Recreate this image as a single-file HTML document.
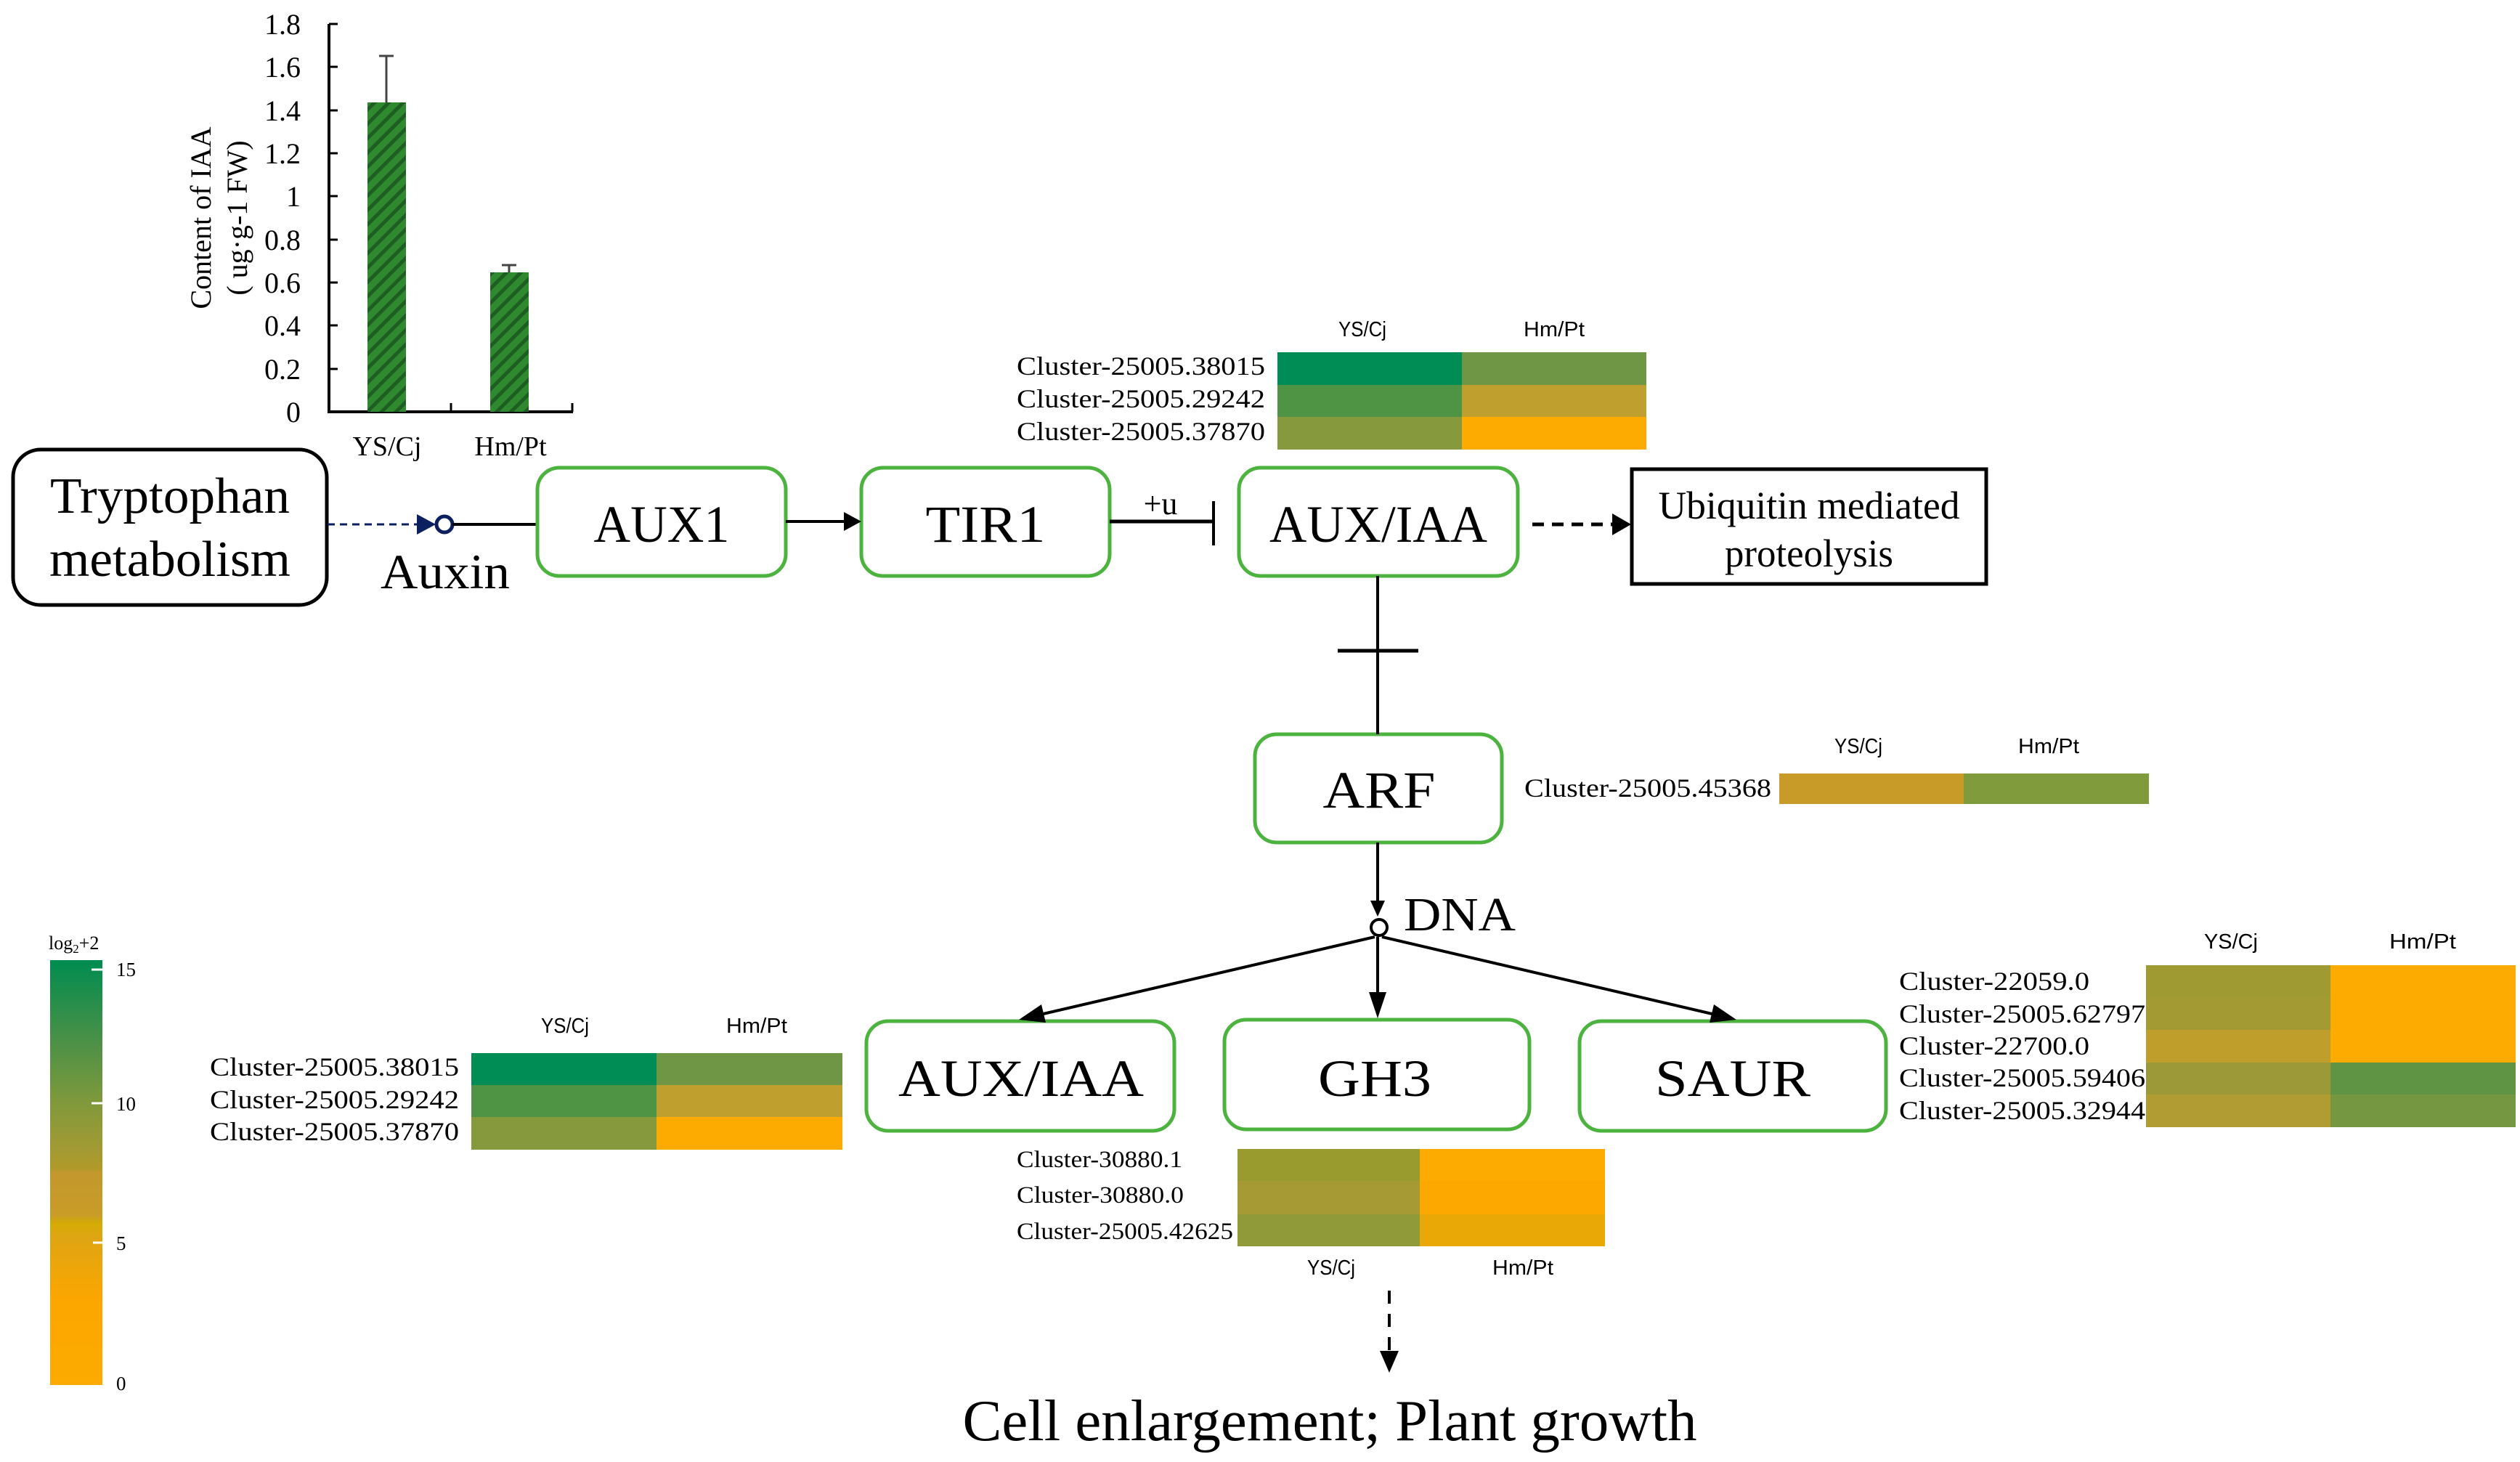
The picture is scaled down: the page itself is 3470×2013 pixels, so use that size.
<!DOCTYPE html>
<html><head><meta charset="utf-8">
<style>html,body{margin:0;padding:0;background:#fff}svg{display:block}</style>
</head><body>
<svg xmlns="http://www.w3.org/2000/svg" width="3470" height="2013" viewBox="0 0 3470 2013">
<defs>
<pattern id="hatch" width="14" height="14" patternUnits="userSpaceOnUse" patternTransform="rotate(45)">
<rect width="14" height="14" fill="#2f8a2f"/><rect width="5" height="14" fill="#1f5e22"/>
</pattern>
<linearGradient id="lg" x1="0" y1="0" x2="0" y2="1">
<stop offset="0" stop-color="#008c50"/>
<stop offset="0.2" stop-color="#4e9146"/>
<stop offset="0.33" stop-color="#7e993c"/>
<stop offset="0.45" stop-color="#a49a33"/>
<stop offset="0.49" stop-color="#b09a28"/>
<stop offset="0.5" stop-color="#c3982d"/>
<stop offset="0.6" stop-color="#c99c28"/>
<stop offset="0.62" stop-color="#d4ac04"/>
<stop offset="0.65" stop-color="#dea513"/>
<stop offset="0.8" stop-color="#fca600"/>
<stop offset="1" stop-color="#fdab00"/>
</linearGradient>
</defs>
<g font-family="Liberation Serif, serif" fill="#000">

<!-- Bar chart -->
<line x1="453" y1="33" x2="453" y2="567" stroke="#000" stroke-width="4"/>
<line x1="451" y1="567" x2="789" y2="567" stroke="#000" stroke-width="4"/>
<g stroke="#000" stroke-width="3">
<line x1="453" y1="33" x2="465" y2="33"/><line x1="453" y1="92" x2="465" y2="92"/><line x1="453" y1="152" x2="465" y2="152"/><line x1="453" y1="211" x2="465" y2="211"/><line x1="453" y1="270" x2="465" y2="270"/><line x1="453" y1="330" x2="465" y2="330"/><line x1="453" y1="389" x2="465" y2="389"/><line x1="453" y1="448" x2="465" y2="448"/><line x1="453" y1="508" x2="465" y2="508"/>
<line x1="621" y1="555" x2="621" y2="567"/><line x1="788" y1="555" x2="788" y2="567"/>
</g>
<g font-size="40" text-anchor="end">
<text x="414" y="47">1.8</text><text x="414" y="106">1.6</text><text x="414" y="166">1.4</text><text x="414" y="225">1.2</text><text x="414" y="284">1</text><text x="414" y="344">0.8</text><text x="414" y="403">0.6</text><text x="414" y="462">0.4</text><text x="414" y="522">0.2</text><text x="414" y="581">0</text>
</g>
<text transform="translate(290,300) rotate(-90)" font-size="40" text-anchor="middle">Content of IAA</text>
<text transform="translate(340,300) rotate(-90)" font-size="40" text-anchor="middle">( ug·g-1 FW)</text>
<rect x="506" y="141" width="53" height="426" fill="url(#hatch)"/>
<rect x="675" y="375" width="53" height="192" fill="url(#hatch)"/>
<g stroke="#444" stroke-width="3">
<line x1="532" y1="141" x2="532" y2="77"/><line x1="522" y1="77" x2="542" y2="77"/>
<line x1="701" y1="375" x2="701" y2="365"/><line x1="691" y1="365" x2="711" y2="365"/>
</g>
<text x="533" y="627" font-size="38" text-anchor="middle">YS/Cj</text>
<text x="703" y="627" font-size="38" text-anchor="middle">Hm/Pt</text>

<!-- Tryptophan -->
<rect x="18" y="619" width="432" height="214" rx="38" fill="none" stroke="#000" stroke-width="5"/>
<text x="234" y="706" font-size="70" text-anchor="middle" textLength="330" lengthAdjust="spacingAndGlyphs">Tryptophan</text>
<text x="234" y="793" font-size="70" text-anchor="middle" textLength="332" lengthAdjust="spacingAndGlyphs">metabolism</text>
<line x1="451" y1="722" x2="578" y2="722" stroke="#0c1f5e" stroke-width="3" stroke-dasharray="10,7"/>
<polygon points="574,708 600,722 574,736" fill="#0c1f5e"/>
<circle cx="612" cy="722" r="11" fill="#fff" stroke="#0c1f5e" stroke-width="5"/>
<line x1="623" y1="722" x2="740" y2="722" stroke="#000" stroke-width="4"/>
<text x="613" y="810" font-size="68" text-anchor="middle" textLength="178" lengthAdjust="spacingAndGlyphs">Auxin</text>

<!-- green boxes -->
<g fill="none" stroke="#4cb33f" stroke-width="5">
<rect x="740" y="644" width="342" height="149" rx="30"/>
<rect x="1186" y="644" width="342" height="149" rx="30"/>
<rect x="1706" y="644" width="384" height="149" rx="30"/>
<rect x="1728" y="1011" width="340" height="149" rx="30"/>
<rect x="1193" y="1406" width="424" height="151" rx="30"/>
<rect x="1686" y="1404" width="420" height="151" rx="30"/>
<rect x="2175" y="1406" width="422" height="151" rx="30"/>
</g>
<g font-size="72" text-anchor="middle">
<text x="911" y="746" textLength="187" lengthAdjust="spacingAndGlyphs">AUX1</text>
<text x="1357" y="746" textLength="165" lengthAdjust="spacingAndGlyphs">TIR1</text>
<text x="1898" y="746" textLength="300" lengthAdjust="spacingAndGlyphs">AUX/IAA</text>
<text x="1899" y="1112" textLength="155" lengthAdjust="spacingAndGlyphs">ARF</text>
<text x="1406" y="1509" textLength="338" lengthAdjust="spacingAndGlyphs">AUX/IAA</text>
<text x="1893" y="1509" textLength="156" lengthAdjust="spacingAndGlyphs">GH3</text>
<text x="2386" y="1509" textLength="214" lengthAdjust="spacingAndGlyphs">SAUR</text>
</g>

<!-- connectors -->
<line x1="1082" y1="718" x2="1165" y2="718" stroke="#000" stroke-width="4"/>
<polygon points="1162,705 1186,718 1162,731"/>
<line x1="1528" y1="718" x2="1671" y2="718" stroke="#000" stroke-width="5"/>
<line x1="1671" y1="690" x2="1671" y2="751" stroke="#000" stroke-width="4"/>
<text x="1598" y="708" font-size="44" text-anchor="middle">+u</text>
<line x1="2110" y1="722" x2="2222" y2="722" stroke="#000" stroke-width="5" stroke-dasharray="16,11"/>
<polygon points="2220,707 2246,722 2220,737"/>
<rect x="2247" y="646" width="488" height="158" fill="none" stroke="#000" stroke-width="5"/>
<text x="2491" y="714" font-size="54" text-anchor="middle" textLength="415" lengthAdjust="spacingAndGlyphs">Ubiquitin mediated</text>
<text x="2491" y="780" font-size="54" text-anchor="middle" textLength="232" lengthAdjust="spacingAndGlyphs">proteolysis</text>

<line x1="1897" y1="793" x2="1897" y2="1011" stroke="#000" stroke-width="4"/>
<line x1="1842" y1="896" x2="1953" y2="896" stroke="#000" stroke-width="5"/>
<line x1="1897" y1="1160" x2="1897" y2="1248" stroke="#000" stroke-width="4"/>
<polygon points="1887,1240 1897,1262 1907,1240"/>
<circle cx="1899" cy="1277" r="11" fill="#fff" stroke="#000" stroke-width="4"/>
<text x="2010" y="1281" font-size="66" text-anchor="middle" textLength="154" lengthAdjust="spacingAndGlyphs">DNA</text>
<g stroke="#000" stroke-width="4">
<line x1="1893" y1="1290" x2="1428" y2="1398"/>
<line x1="1897" y1="1290" x2="1897" y2="1372"/>
<line x1="1903" y1="1290" x2="2366" y2="1398"/>
</g>
<polygon points="1403,1404 1434,1383 1440,1408"/>
<polygon points="1885,1366 1897,1402 1909,1366"/>
<polygon points="2391,1404 2360,1383 2354,1408"/>
<line x1="1913" y1="1777" x2="1913" y2="1866" stroke="#000" stroke-width="4" stroke-dasharray="18,14"/>
<polygon points="1900,1860 1913,1890 1926,1860"/>
<text x="1831" y="1983" font-size="80" text-anchor="middle" textLength="1011" lengthAdjust="spacingAndGlyphs">Cell enlargement; Plant growth</text>

<!-- headers -->
<g font-family="Liberation Sans, sans-serif" font-size="29" text-anchor="middle">
<text x="1876" y="463" textLength="66" lengthAdjust="spacingAndGlyphs">YS/Cj</text><text x="2140" y="463" textLength="84" lengthAdjust="spacingAndGlyphs">Hm/Pt</text>
<text x="2559" y="1037" textLength="66" lengthAdjust="spacingAndGlyphs">YS/Cj</text><text x="2821" y="1037" textLength="84" lengthAdjust="spacingAndGlyphs">Hm/Pt</text>
<text x="778" y="1422" textLength="66" lengthAdjust="spacingAndGlyphs">YS/Cj</text><text x="1042" y="1422" textLength="84" lengthAdjust="spacingAndGlyphs">Hm/Pt</text>
<text x="1833" y="1755" textLength="66" lengthAdjust="spacingAndGlyphs">YS/Cj</text><text x="2097" y="1755" textLength="84" lengthAdjust="spacingAndGlyphs">Hm/Pt</text>
<text x="3072" y="1306" textLength="74" lengthAdjust="spacingAndGlyphs">YS/Cj</text><text x="3336" y="1306" textLength="92" lengthAdjust="spacingAndGlyphs">Hm/Pt</text>
</g>
<rect x="1759" y="485" width="254" height="45" fill="#008c55"/><rect x="2013" y="485" width="254" height="45" fill="#6f9644"/>
<rect x="1759" y="530" width="254" height="44" fill="#4f9444"/><rect x="2013" y="530" width="254" height="44" fill="#bf9f2e"/>
<rect x="1759" y="574" width="254" height="45" fill="#86993c"/><rect x="2013" y="574" width="254" height="45" fill="#fdab00"/>
<g font-size="36">
<text x="1400" y="516" textLength="342" lengthAdjust="spacingAndGlyphs">Cluster-25005.38015</text>
<text x="1400" y="561" textLength="342" lengthAdjust="spacingAndGlyphs">Cluster-25005.29242</text>
<text x="1400" y="606" textLength="342" lengthAdjust="spacingAndGlyphs">Cluster-25005.37870</text>
</g>

<!-- ARF heatmap -->
<rect x="2450" y="1065" width="254" height="42" fill="#c89a27"/><rect x="2704" y="1065" width="255" height="42" fill="#7f9b3c"/>
<text x="2099" y="1097" font-size="36" textLength="340" lengthAdjust="spacingAndGlyphs">Cluster-25005.45368</text>

<!-- Left heatmap -->
<rect x="649" y="1450" width="255" height="44" fill="#008c55"/><rect x="904" y="1450" width="256" height="44" fill="#6f9644"/>
<rect x="649" y="1494" width="255" height="44" fill="#4f9444"/><rect x="904" y="1494" width="256" height="44" fill="#bf9f2e"/>
<rect x="649" y="1538" width="255" height="45" fill="#86993c"/><rect x="904" y="1538" width="256" height="45" fill="#fdab00"/>
<g font-size="36">
<text x="289" y="1481" textLength="343" lengthAdjust="spacingAndGlyphs">Cluster-25005.38015</text>
<text x="289" y="1526" textLength="343" lengthAdjust="spacingAndGlyphs">Cluster-25005.29242</text>
<text x="289" y="1570" textLength="343" lengthAdjust="spacingAndGlyphs">Cluster-25005.37870</text>
</g>

<!-- GH3 heatmap -->
<rect x="1704" y="1582" width="251" height="44" fill="#9a9b2e"/><rect x="1955" y="1582" width="255" height="44" fill="#fdab00"/>
<rect x="1704" y="1626" width="251" height="46" fill="#a59a33"/><rect x="1955" y="1626" width="255" height="46" fill="#fda800"/>
<rect x="1704" y="1672" width="251" height="44" fill="#919a38"/><rect x="1955" y="1672" width="255" height="44" fill="#eaa806"/>
<g font-size="33">
<text x="1400" y="1607" textLength="228" lengthAdjust="spacingAndGlyphs">Cluster-30880.1</text>
<text x="1400" y="1656" textLength="230" lengthAdjust="spacingAndGlyphs">Cluster-30880.0</text>
<text x="1400" y="1706" textLength="298" lengthAdjust="spacingAndGlyphs">Cluster-25005.42625</text>
</g>

<!-- SAUR heatmap -->
<rect x="2955" y="1329" width="254" height="45" fill="#a09a33"/><rect x="3209" y="1329" width="255" height="45" fill="#fdab00"/>
<rect x="2955" y="1374" width="254" height="44" fill="#a39a33"/><rect x="3209" y="1374" width="255" height="44" fill="#fdab00"/>
<rect x="2955" y="1418" width="254" height="45" fill="#bf9e2c"/><rect x="3209" y="1418" width="255" height="45" fill="#fdab00"/>
<rect x="2955" y="1463" width="254" height="44" fill="#9c9a38"/><rect x="3209" y="1463" width="255" height="44" fill="#5f9444"/>
<rect x="2955" y="1507" width="254" height="45" fill="#b09c33"/><rect x="3209" y="1507" width="255" height="45" fill="#759742"/>
<g font-size="36">
<text x="2615" y="1363" textLength="262" lengthAdjust="spacingAndGlyphs">Cluster-22059.0</text>
<text x="2615" y="1408" textLength="339" lengthAdjust="spacingAndGlyphs">Cluster-25005.62797</text>
<text x="2615" y="1452" textLength="262" lengthAdjust="spacingAndGlyphs">Cluster-22700.0</text>
<text x="2615" y="1496" textLength="339" lengthAdjust="spacingAndGlyphs">Cluster-25005.59406</text>
<text x="2615" y="1541" textLength="339" lengthAdjust="spacingAndGlyphs">Cluster-25005.32944</text>
</g>

<!-- legend -->
<rect x="69" y="1322" width="72" height="585" fill="url(#lg)"/>
<g stroke="#fff" stroke-width="3">
<line x1="126" y1="1335" x2="141" y2="1335"/><line x1="126" y1="1519" x2="141" y2="1519"/><line x1="128" y1="1711" x2="141" y2="1711"/>
</g>
<g font-size="27">
<text x="160" y="1344">15</text><text x="160" y="1529">10</text><text x="160" y="1721">5</text><text x="160" y="1914">0</text>
<text x="67" y="1307" font-size="26">log<tspan font-size="17" dy="5">2</tspan><tspan dy="-5">+2</tspan></text>
</g>
</g>
</svg>
</body></html>
